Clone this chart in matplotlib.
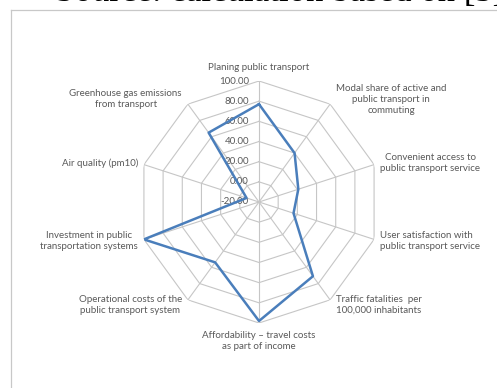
import numpy as np
import matplotlib.pyplot as plt
from matplotlib.lines import Line2D

# data
categories = [
    "Planing public transport",
    "Modal share of active and\npublic transport in\ncommuting",
    "Convenient access to\npublic transport service",
    "User satisfaction with\npublic transport service",
    "Traffic fatalities  per\n100,000 inhabitants",
    "Affordability \u2013 travel costs\nas part of income",
    "Operational costs of the\npublic transport system",
    "Investment in public\ntransportation systems",
    "Air quality (pm10)",
    "Greenhouse gas emissions\nfrom transport",
]
values = [77, 40, 21, 16, 71, 98, 54, 100, -7, 65]
ring_values = [-20, 0, 20, 40, 60, 80, 100]
ring_labels = ["-20.00", "0.00", "20.00", "40.00", "60.00", "80.00", "100.00"]

W, H = 497, 388
cx, cy, rad = 259, 202, 121

plt.rcParams["font.family"] = ["Lato", "DejaVu Sans"]

fig = plt.figure(figsize=(W / 100, H / 100), dpi=100)
ax = fig.add_axes([(cx - rad) / W, 1 - (cy + rad) / H, 2 * rad / W, 2 * rad / H],
                  projection="polar")
ax.set_theta_zero_location("N")
ax.set_theta_direction(-1)
ax.set_ylim(-20, 100)
ax.set_axis_off()

n = len(categories)
theta = np.linspace(0, 2 * np.pi, n, endpoint=False)
theta_c = np.append(theta, theta[0])

grid_col = "#c6c6c6"
for r in ring_values[1:]:
    ax.plot(theta_c, [r] * (n + 1), color=grid_col, lw=0.8, zorder=1)
for t in theta:
    ax.plot([t, t], [-20, 100], color=grid_col, lw=0.8, zorder=1)

vals_c = values + values[:1]
ax.plot(theta_c, vals_c, color="#4a7ebb", lw=1.8, zorder=3)

txt_col = "#595959"
for r, lab in zip(ring_values, ring_labels):
    ax.annotate(lab, (0, r), xytext=(-10, 0), textcoords="offset pixels",
                ha="right", va="center", fontsize=7, color=txt_col, zorder=2)

for t, lab in zip(theta, categories):
    s, c = np.sin(t), np.cos(t)
    if abs(s) < 0.1:
        ha = "center"
        va = "bottom" if c > 0 else "top"
        off = (0, 9) if c > 0 else (0, -8)
        ma = "center"
    else:
        ha = "left" if s > 0 else "right"
        va = "center"
        off = (6 * np.sign(s), 6 * c)
        ma = "left" if (s > 0 and c < 0) else "center"
    ax.annotate(lab, (t, 100), xytext=off, textcoords="offset pixels",
                ha=ha, va=va, multialignment=ma, fontsize=7, color=txt_col,
                linespacing=1.25, annotation_clip=False)

# chart frame (cropped)
frame_col = "#c8c8c8"
fig.add_artist(Line2D([11 / W, 11 / W], [0, 1 - 10 / H], transform=fig.transFigure,
                      color=frame_col, lw=0.9))
fig.add_artist(Line2D([11 / W, 1], [1 - 10 / H, 1 - 10 / H], transform=fig.transFigure,
                      color=frame_col, lw=0.9))

# caption cut off at the top
fig.text(55 / W, 1 - 1.2 / H, "Source: calculation based on [5]", ha="left",
         va="baseline", fontsize=25, family="Liberation Serif", color="black")

fig.savefig("out.png", dpi=100)
